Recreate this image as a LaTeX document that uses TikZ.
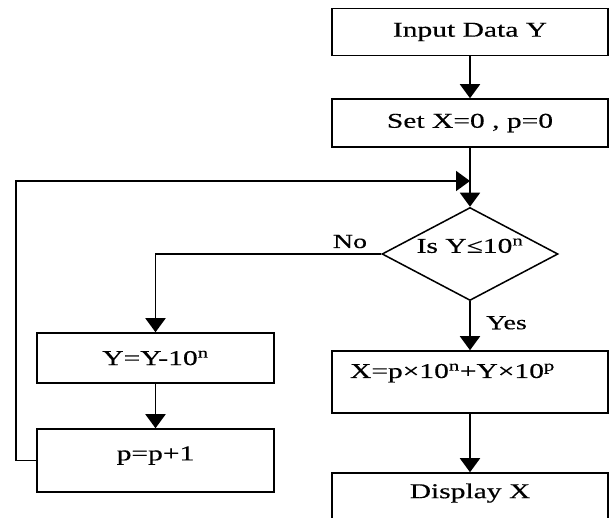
\documentclass[tikz,border=0pt]{standalone}
\usepackage{fontspec}
\setmainfont{Liberation Serif}[FakeStretch=1.4, FakeBold=0.4]
\usepackage{tikz}
\usetikzlibrary{shapes.geometric, arrows.meta, positioning}

\begin{document}
\begin{tikzpicture}[
  font=\fontsize{18pt}{21pt}\selectfont,
  stepbox/.style={draw, line width=1.3pt, minimum width=8.28cm, minimum height=1.4cm,
                  align=center, inner sep=0pt},
  loopbox/.style={draw, line width=1.3pt, minimum width=7.11cm, minimum height=1.5cm,
                  align=center, inner sep=0pt},
  decbox/.style={draw, diamond, line width=1.3pt, aspect=1.89, inner sep=0pt,
                 minimum width=5.28cm, minimum height=2.79cm, text depth=0.5cm},
  lbl/.style={inner sep=0pt, font=\fontsize{17pt}{19pt}\selectfont},
  arrow/.style={-{Triangle[length=0.42cm, width=0.6cm]}, line width=1.6pt},
]
\useasboundingbox (0,0) rectangle (18.3,-15.54);

%% ── Right column (x = 14.1) ──────────────────────────────────────────────
\node[stepbox] (input) at (14.1, -0.96) {Input Data Y};
\node[stepbox, minimum height=1.44cm] (init) at (14.1, -3.69) {Set X=0 , p=0};
\coordinate (join) at (14.1, -5.43);
\node[decbox] (test) at (14.1, -7.62) {Is Y≤10\textsuperscript{n}};
\node[stepbox, minimum height=1.86cm, text width=7.2cm, align=left,
      inner xsep=0.54cm, text depth=0.67cm] (calc) at (14.1, -11.46)
  {X=p×10\textsuperscript{n}+Y×10\textsuperscript{p}};
\node[stepbox, minimum height=1.56cm, text depth=0.49cm] (show) at (14.1, -14.97)
  {Display X};

%% ── Left column (x = 4.665) ──────────────────────────────────────────────
\node[loopbox] (reduce) at (4.665, -10.74) {Y=Y-10\textsuperscript{n}};
\node[loopbox, minimum height=1.89cm, text depth=0.43cm] (count) at (4.665, -13.815)
  {p=p+1};

%% ── Branch labels ────────────────────────────────────────────────────────
\node[lbl, anchor=base east] (no)  at ([xshift=-0.42cm, yshift=0.18cm]test.west) {No};
\node[lbl, anchor=base west] (yes) at ([xshift=0.48cm, yshift=-0.84cm]test.south) {Yes};

%% ── Arrows ───────────────────────────────────────────────────────────────
\draw[arrow] (input) -- (init);
\draw[arrow] (init)  -- (test);
\draw[arrow] (test.west) -| (reduce.north);
\draw[arrow] (reduce) -- (count);
\draw[arrow] (count.west) -- ++(-0.6,0) |- (join);
\draw[arrow] (test)  -- (calc);
\draw[arrow] (calc)  -- (show);

\end{tikzpicture}
\end{document}
